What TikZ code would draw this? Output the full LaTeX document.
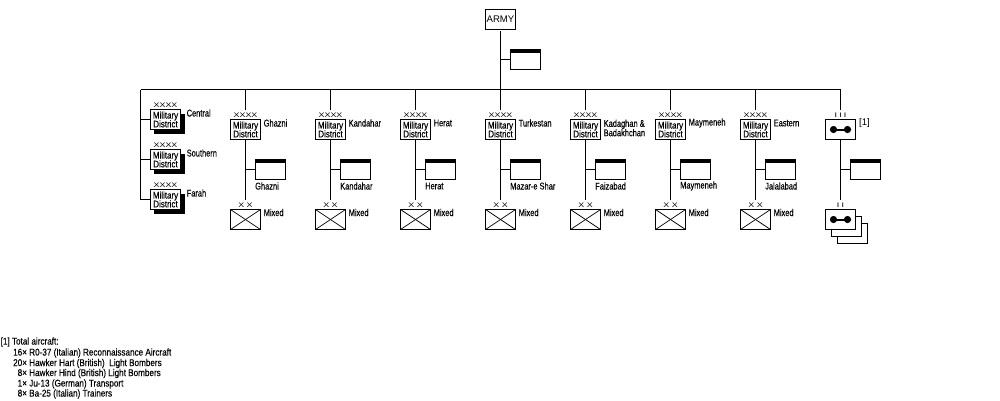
\documentclass[tikz,border=0pt]{standalone}
\usepackage{fontspec}
\newfontfamily\labelfont[FakeStretch=0.76,FakeBold=0.25]{Liberation Sans}
\newfontfamily\notefont[FakeStretch=0.83,FakeBold=0.25]{Liberation Sans}
\newfontfamily\plainfont{Liberation Sans}
\newfontfamily\rankfont[FakeStretch=1.35]{Liberation Sans}
\tikzset{
  box/.style={draw=black,fill=white,line width=1pt,minimum width=30pt,minimum height=20pt,inner sep=0pt,outer sep=0pt,
    font=\notefont\fontsize{9.6}{9.6}\selectfont,align=center},
  lbl/.style={inner sep=0pt,font=\labelfont\fontsize{9.8}{10}\selectfont,text=black},
  note/.style={inner sep=0pt,font=\notefont\fontsize{9.8}{10}\selectfont,text=black,anchor=west},
  rank/.style={inner sep=0pt,font=\rankfont\fontsize{6.6}{7}\selectfont,text=black},
  wire/.style={line width=1pt,draw=black},
}
% Military district symbol with an optional hard shadow
\newcommand{\district}[3]{%
  \node[box] (#1) at (#2,#3) {Military\\[-0.8pt]District};
  \node[rank] (#1x) at (#2,#3-14) {XXXX};
}
\newcommand{\shadowdistrict}[3]{%
  \fill[black] (#2-12,#3-6) rectangle (#2+19,#3+14.5);
  \district{#1}{#2}{#3}
}
% Headquarters rectangle with a heavy top edge
\newcommand{\hq}[3]{%
  \node[box] (#1) at (#2,#3) {};
  \fill[black] ([xshift=-0.5pt,yshift=0.5pt]#1.north west) rectangle ([xshift=0.5pt,yshift=-3.5pt]#1.north east);
}
% Aircraft symbol: a bar with a disc at each end
\newcommand{\plane}[1]{%
  \fill[black] ([xshift=-7pt]#1.center) circle (3.6pt);
  \fill[black] ([xshift=7pt]#1.center) circle (3.6pt);
  \draw[black,line width=2pt] ([xshift=-7pt]#1.center) -- ([xshift=7pt]#1.center);
}
\begin{document}
\begin{tikzpicture}[x=1pt,y=-1pt]
\useasboundingbox[fill=white] (0,0) rectangle (1000,400);

% Army headquarters and the main bar
\node[box,font=\plainfont\fontsize{9.6}{10}\selectfont] (army) at (500.5,19.5) {ARMY};
\hq{armyhq}{525.5}{59.5}
\coordinate (barL) at (140.5,89.5);
\coordinate (barR) at (840.5,89.5);
\coordinate (barM) at (500.5,89.5);
\coordinate (armyj) at (500.5,59.5);
\draw[wire] (barL) -- (barR);
\draw[wire] (army.south) ++(0,1.5) -- (barM);
\draw[wire] (armyj) -- (armyhq.west);

% Districts held directly under the army, on the left spur
\shadowdistrict{central}{165.5}{119.5}
\shadowdistrict{southern}{165.5}{159.5}
\shadowdistrict{farah}{165.5}{199.5}
\coordinate (spurC) at (140.5,119.5);
\coordinate (spurS) at (140.5,159.5);
\coordinate (spurF) at (140.5,199.5);
\draw[wire] (barL) -- (spurF) -- (farah.west);
\draw[wire] (spurC) -- (central.west);
\draw[wire] (spurS) -- (southern.west);
\node[lbl,anchor=west] (lc) at (186.5,113) {Central};
\node[lbl,anchor=west] (ls) at (186.5,153) {Southern};
\node[lbl,anchor=west] (lf) at (186.5,193) {Farah};

% Districts with a headquarters and a mixed division
\foreach \n/\x/\title/\town in {
  a/245.5/Ghazni/Ghazni,
  b/330.5/Kandahar/Kandahar,
  c/415.5/Herat/Herat,
  d/500.5/Turkestan/Mazar-e Shar,
  e/585.5/{}/Faizabad,
  f/670.5/Maymeneh/Maymeneh,
  g/755.5/Eastern/Jalalabad}
{
  \district{md\n}{\x}{129.5}
  \hq{hq\n}{\x+25}{169.5}
  \node[box] (div\n) at (\x,219.5) {};
  \draw[black,line width=0.7pt] (div\n.north west) -- (div\n.south east);
  \draw[black,line width=0.7pt] (div\n.north east) -- (div\n.south west);
  \node[rank] (divx\n) at (\x,205) {X\hspace{2.5pt}X};
  \coordinate (top\n) at (\x,89.5);
  \coordinate (up\n) at (\x,110);
  \coordinate (low\n) at (\x,200);
  \coordinate (j\n) at (\x,169.5);
  \draw[wire] (top\n) -- (up\n);
  \draw[wire] ([yshift=1pt]md\n.south) -- (low\n);
  \draw[wire] (j\n) -- (hq\n.west);
  \node[lbl,anchor=west] (title\n) at (\x+18,123) {\title};
  \node[lbl,anchor=west] (town\n) at (\x+9.5,186) {\town};
  \node[lbl,anchor=west] (mix\n) at (\x+18,212.5) {Mixed};
}
\node[lbl,anchor=west,align=left] (titlee2) at (603.5,128) {Kadaghan \&\\[-0.6pt]Badakhchan};

% Air corps column
\node[box] (air3) at (852.5,233.5) {};
\node[box] (air2) at (846.5,226.5) {};
\node[box] (air1) at (840.5,219.5) {};
\node[box] (air) at (840.5,129.5) {};
\plane{air}
\plane{air1}
\hq{airhq}{865.5}{169.5}
\node[rank] (airx) at (840.5,115) {I\,\,I\,\,I};
\node[rank] (air1x) at (840.5,205) {I\,\,I};
\node[inner sep=0pt,font=\plainfont\fontsize{9.6}{10}\selectfont,anchor=west] (ref) at (859,123) {[1]};
\coordinate (airtop) at (840.5,89.5);
\coordinate (airup) at (840.5,110);
\coordinate (airlow) at (840.5,200);
\coordinate (airj) at (840.5,169.5);
\draw[wire] (airtop) -- (airup);
\draw[wire] ([yshift=1pt]air.south) -- (airlow);
\draw[wire] (airj) -- (airhq.west);

% Footnote listing the aircraft
\node[note] (n0) at (0.5,342) {[1] Total aircraft:};
\node[note] (n1) at (13,353) {16× R0-37 (Italian) Reconnaissance Aircraft};
\node[note] (n2) at (13,363.5) {20× Hawker Hart (British)\ \ Light Bombers};
\node[note] (n3) at (17.5,373.5) {8× Hawker Hind (British) Light Bombers};
\node[note] (n4) at (17.5,384) {1× Ju-13 (German) Transport};
\node[note] (n5) at (17.5,394) {8× Ba-25 (Italian) Trainers};
\end{tikzpicture}
\end{document}
